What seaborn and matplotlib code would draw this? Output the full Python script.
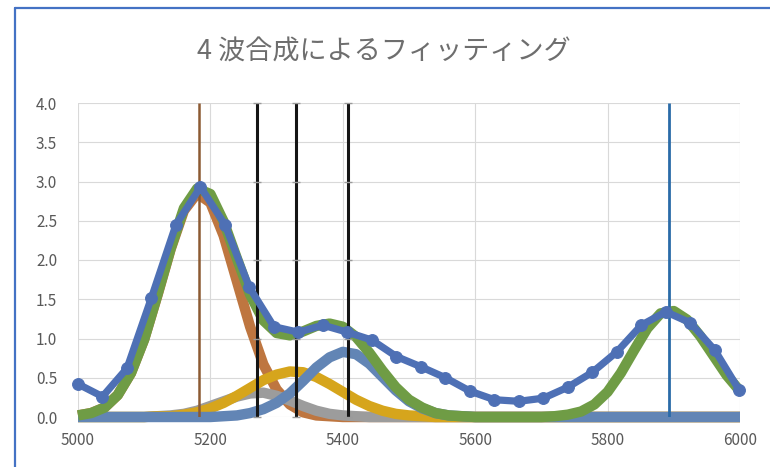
import numpy as np
import pandas as pd
import matplotlib
matplotlib.use("Agg")
import matplotlib.pyplot as plt
import seaborn as sns
from matplotlib.lines import Line2D

# Text
title = "4 波合成によるフィッティング"
x_ticks = [5000, 5200, 5400, 5600, 5800, 6000]
y_ticks = [0.0, 0.5, 1.0, 1.5, 2.0, 2.5, 3.0, 3.5, 4.0]

# Observed spectrum (blue with markers)
obs_x = [5000, 5037, 5074, 5111, 5148, 5185, 5222, 5259, 5296, 5333,
         5370, 5407, 5444, 5481, 5518, 5555, 5592, 5629, 5666, 5703,
         5740, 5777, 5814, 5851, 5888, 5925, 5962, 5999]
obs_y = [0.42, 0.26, 0.62, 1.52, 2.45, 2.93, 2.45, 1.65, 1.15, 1.08,
         1.17, 1.08, 0.98, 0.77, 0.64, 0.50, 0.33, 0.22, 0.20, 0.24,
         0.38, 0.57, 0.83, 1.17, 1.34, 1.20, 0.85, 0.34]

# Fitted component curves, read every 20 units
fit_x = [5000, 5020, 5040, 5060, 5080, 5100, 5120, 5140, 5160, 5180,
         5200, 5220, 5240, 5260, 5280, 5300, 5320, 5340, 5360, 5380,
         5400, 5420, 5440, 5460, 5480, 5500, 5520, 5540, 5560, 5580,
         5600, 5620, 5640, 5660, 5680, 5700, 5720, 5740, 5760, 5780,
         5800, 5820, 5840, 5860, 5880, 5900, 5920, 5940, 5960, 5980,
         6000]
brown_y = [0.02, 0.05, 0.12, 0.28, 0.56, 0.99, 1.55, 2.14, 2.63, 2.85,
           2.73, 2.31, 1.73, 1.15, 0.67, 0.35, 0.16, 0.06, 0.02, 0.01,
           0, 0, 0, 0, 0, 0, 0, 0, 0, 0,
           0, 0, 0, 0, 0, 0, 0, 0, 0, 0,
           0, 0, 0, 0, 0, 0, 0, 0, 0, 0,
           0]
gray_y = [0, 0, 0, 0, 0, 0.0, 0.01, 0.02, 0.04, 0.08,
          0.14, 0.20, 0.26, 0.30, 0.31, 0.27, 0.21, 0.14, 0.08, 0.04,
          0.02, 0.01, 0, 0, 0, 0, 0, 0, 0, 0,
          0, 0, 0, 0, 0, 0, 0, 0, 0, 0,
          0, 0, 0, 0, 0, 0, 0, 0, 0, 0,
          0]
yellow_y = [0, 0, 0, 0, 0, 0.0, 0.01, 0.01, 0.03, 0.06,
            0.11, 0.18, 0.27, 0.37, 0.47, 0.54, 0.58, 0.57, 0.51, 0.42,
            0.32, 0.22, 0.14, 0.08, 0.04, 0.02, 0.01, 0, 0, 0,
            0, 0, 0, 0, 0, 0, 0, 0, 0, 0,
            0, 0, 0, 0, 0, 0, 0, 0, 0, 0,
            0]
steel_y = [0, 0, 0, 0, 0, 0, 0, 0, 0, 0,
           0.0, 0.01, 0.02, 0.05, 0.10, 0.18, 0.30, 0.46, 0.63, 0.76,
           0.83, 0.80, 0.68, 0.51, 0.34, 0.20, 0.11, 0.05, 0.02, 0.01,
           0, 0, 0, 0, 0, 0, 0, 0, 0, 0,
           0, 0, 0, 0, 0, 0, 0, 0, 0, 0,
           0]
green_y = [0.02, 0.05, 0.12, 0.28, 0.56, 0.99, 1.56, 2.15, 2.66, 2.91,
           2.84, 2.49, 2.02, 1.56, 1.23, 1.07, 1.04, 1.09, 1.16, 1.19,
           1.15, 1.02, 0.82, 0.59, 0.38, 0.22, 0.12, 0.05, 0.02, 0.01,
           0, 0, 0, 0, 0, 0, 0.01, 0.03, 0.07, 0.16,
           0.32, 0.56, 0.85, 1.13, 1.32, 1.35, 1.24, 1.03, 0.78, 0.53,
           0.33]

# Line positions
brown_line_x = 5183
black_lines_x = [5271, 5329, 5408]
blue_line_x = 5893
line_levels = [0, 1, 2, 3, 4]

sns.set_theme(style="white")
plt.rcParams['font.family'] = ['Noto Sans CJK JP', 'DejaVu Sans']

fig = plt.figure(figsize=(7.7, 4.67), dpi=100)
ax = fig.add_axes([78 / 770, 1 - 417 / 467, (740 - 78) / 770, (417 - 103) / 467])

comp_lw = 7.5
sns.lineplot(x=fit_x, y=brown_y, color='#BE7640', lw=comp_lw, ax=ax, estimator=None,
             zorder=3, clip_on=False, solid_capstyle='butt')
sns.lineplot(x=fit_x, y=gray_y, color='#9C9C9C', lw=comp_lw, ax=ax, estimator=None,
             zorder=4, clip_on=False, solid_capstyle='butt')
sns.lineplot(x=fit_x, y=yellow_y, color='#D6A51C', lw=comp_lw, ax=ax, estimator=None,
             zorder=5, clip_on=False, solid_capstyle='butt')
sns.lineplot(x=fit_x, y=steel_y, color='#6285B5', lw=comp_lw, ax=ax, estimator=None,
             zorder=6, clip_on=False, solid_capstyle='butt')
sns.lineplot(x=fit_x, y=green_y, color='#6F9C45', lw=comp_lw, ax=ax, estimator=None,
             zorder=7, clip_on=False, solid_capstyle='butt')

# vertical marker lines
ax.vlines(brown_line_x, 0, 4, color='#8C5A32', lw=1.8, zorder=7.5)
ax.vlines(black_lines_x, 0, 4, color='#151515', lw=2.2, zorder=7.5)
ax.vlines(blue_line_x, 0, 4, color='#2A6BA8', lw=2.0, zorder=7.5)
for lx in black_lines_x:
    ax.plot([lx] * len(line_levels), line_levels, ls='none', marker='_', ms=6,
            mew=1.0, color='#9A9A9A', zorder=7.6, clip_on=False)

sns.lineplot(x=obs_x, y=obs_y, color='#4E70B5', lw=5.2, marker='o', markersize=8.5,
             markeredgecolor='#4E70B5', ax=ax, estimator=None, zorder=8, clip_on=False)

ax.set_xlim(5000, 6000)
ax.set_ylim(0, 4)
ax.set_xticks(x_ticks)
ax.set_yticks(y_ticks)
ax.set_yticklabels([f"{v:.1f}" for v in y_ticks])
ax.tick_params(axis='both', length=0, labelsize=11, labelcolor='#595959')
ax.tick_params(axis='y', pad=15)
ax.tick_params(axis='x', pad=11)
ax.grid(True, color='#D9D9D9', lw=0.8)
ax.set_axisbelow(True)
for side in ['top', 'right', 'bottom', 'left']:
    ax.spines[side].set_visible(False)
ax.set_xlabel("")
ax.set_ylabel("")

fig.text(0.499, 1 - 52 / 467, title, ha='center', va='center', fontsize=19.5,
         color='#6E6E6E')

# chart frame (left and top edges visible)
fx = 15 / 770
fy = 1 - 8 / 467
fig.add_artist(Line2D([fx, fx], [0, fy], color='#4472C4', lw=1.6))
fig.add_artist(Line2D([fx, 1], [fy, fy], color='#4472C4', lw=1.6))

fig.savefig("out.png", dpi=100)
